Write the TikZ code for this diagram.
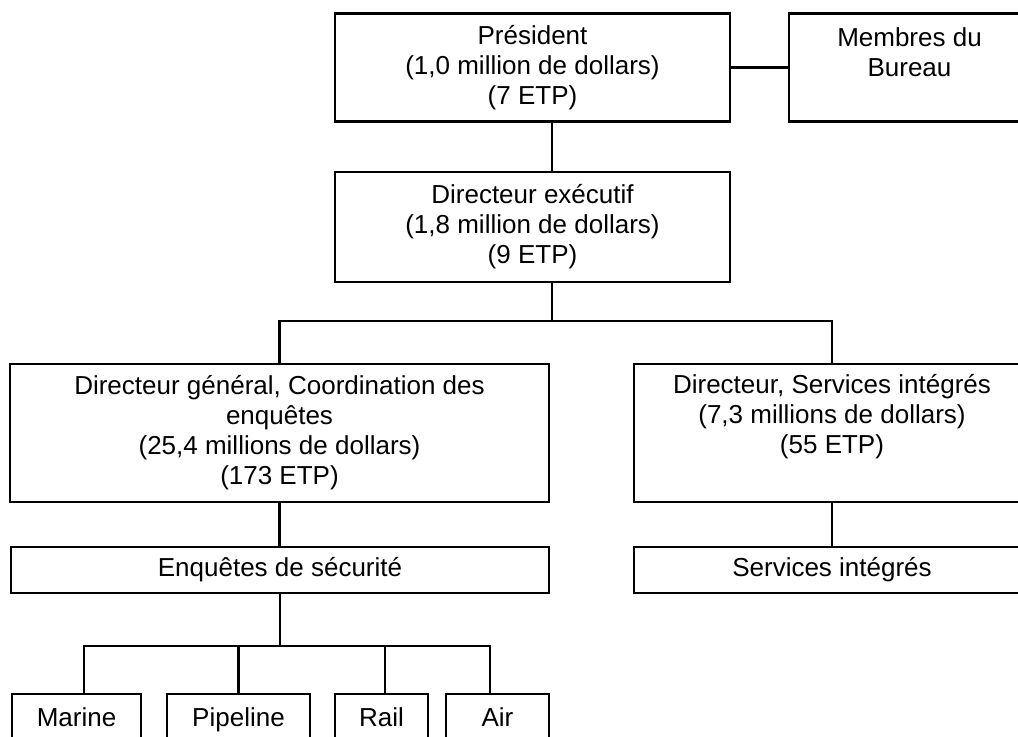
\documentclass[tikz,border=0pt]{standalone}
\usepackage{fontspec}
\setmainfont{Liberation Sans}

\begin{document}
\begin{tikzpicture}[x=0.75pt, y=-0.75pt]
 \tikzstyle{boite}=[rectangle, draw, line width=2pt, text=black, align=center, inner sep=0pt, font=\fontsize{19.5pt}{22.5pt}\selectfont]
 \tikzstyle{ligne}=[boite, text height=14pt, text depth=4pt]
 \tikzstyle{lien}=[line width=2pt]
 %
 \useasboundingbox (0, 0) rectangle (1018, 736);
 \clip (0, 0) rectangle (1018, 736);
 %
 \node[boite, minimum width=296.25pt, minimum height=81pt] (pres) at (532.5, 67.5) {Président\\(1,0 million de dollars)\\(7 ETP)};
 \node[boite, minimum width=180.75pt, minimum height=81pt] (membres) at (909.5, 67.5) {Membres du\\Bureau\\\mbox{}};
 %
 \node[boite, minimum width=296.25pt, minimum height=82.5pt] (de) at (532.5, 227) {Directeur exécutif\\(1,8 million de dollars)\\(9 ETP)};
 %
 \node[boite, minimum width=404.25pt, minimum height=103.5pt] (dg) at (279.5, 433) {Directeur général, Coordination des\\enquêtes\\(25,4 millions de dollars)\\(173 ETP)};
 \node[boite, minimum width=297pt, minimum height=103.5pt] (sidir) at (832, 433) {Directeur, Services intégrés\\(7,3 millions de dollars)\\(55 ETP)\\\strut};
 %
 \node[ligne, minimum width=403.5pt, minimum height=34.5pt] (enq) at (280, 570) {Enquêtes de sécurité};
 \node[ligne, minimum width=297pt, minimum height=34.5pt] (servint) at (832, 570) {Services intégrés};
 %
 \node[ligne, minimum width=96.75pt, minimum height=39pt] (marine) at (76.5, 720) {Marine};
 \node[ligne, minimum width=107.25pt, minimum height=39pt] (pipeline) at (238.5, 720) {Pipeline};
 \node[ligne, minimum width=69.75pt, minimum height=39pt] (rail) at (381.5, 720) {Rail};
 \node[ligne, minimum width=77.25pt, minimum height=39pt] (air) at (497.5, 720) {Air};
 %
 \coordinate (busA) at (552, 321);
 \coordinate (busB) at (280, 646);
 %%
 \draw[lien] (pres.east)--(pres.east -| membres.west);
 \draw[lien] (pres.south -| busA)--(de.north -| busA);
 \draw[lien] (de.south -| busA)--(busA);
 \draw[lien] (dg.north) |- (busA) -| (sidir.north);
 \draw[lien] (dg.south)--(dg.south |- enq.north);
 \draw[lien] (sidir.south)--(sidir.south |- servint.north);
 \draw[lien] (enq.south)--(busB);
 \draw[lien] ([xshift=5.6pt]marine.north) |- (busB);
 \draw[lien] (pipeline.north) |- (busB);
 \draw[lien] ([xshift=2.6pt]rail.north) |- (busB);
 \draw[lien] ([xshift=-5.6pt]air.north) |- (busB);
\end{tikzpicture}
\end{document}
